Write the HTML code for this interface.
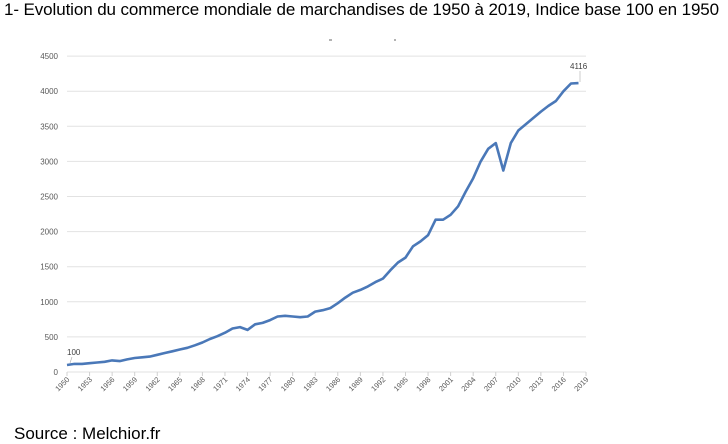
<!DOCTYPE html>
<html><head><meta charset="utf-8"><style>
body{margin:0;background:#fff;width:728px;height:438px;overflow:hidden;font-family:"Liberation Sans",sans-serif}
.t{position:absolute;left:4px;top:0px;font-size:17px;color:#000;white-space:nowrap;letter-spacing:-0.1px}
.s{position:absolute;left:14px;top:424px;font-size:17px;color:#000}
</style></head><body>
<div class="t">1- Evolution du commerce mondiale de marchandises de 1950 à 2019, Indice base 100 en 1950</div>
<svg id="c" width="728" height="438" style="position:absolute;left:0;top:0"></svg>
<div class="s">Source : Melchior.fr</div>
<script>
var d={1950:100,1951:115,1952:115,1953:125,1954:135,1955:145,1956:165,1957:155,1958:180,1959:200,1960:210,1961:220,1962:245,1963:270,1964:295,1965:320,1966:345,1967:380,1968:420,1969:470,1970:510,1971:560,1972:620,1973:640,1974:600,1975:680,1976:700,1977:740,1978:790,1979:800,1980:790,1981:780,1982:790,1983:860,1984:880,1985:910,1986:980,1987:1060,1988:1130,1989:1170,1990:1220,1991:1280,1992:1330,1993:1450,1994:1560,1995:1630,1996:1790,1997:1860,1998:1950,1999:2170,2000:2170,2001:2240,2002:2360,2003:2570,2004:2760,2005:3000,2006:3180,2007:3260,2008:2870,2009:3260,2010:3440,2011:3530,2012:3620,2013:3710,2014:3790,2015:3860,2016:4000,2017:4110,2018:4116};
var X=function(y){return 67+(y-1950)*7.522},Y=function(v){return 372-v*0.0702};
var s='';
for(var v=0;v<=4500;v+=500){var y=Y(v);s+='<line x1="67" x2="586" y1="'+y+'" y2="'+y+'" stroke="#e2e2e2" stroke-width="1"/>';s+='<text x="58" y="'+(y+3)+'" font-size="8" fill="#595959" text-anchor="end">'+v+'</text>';}
for(var yr=1950;yr<=2019;yr+=3){var x=X(yr);s+='<line x1="'+x+'" x2="'+x+'" y1="372" y2="376" stroke="#d0d0d0"/>';s+='<text transform="translate('+(x+3)+',380) rotate(-45)" font-size="7.5" fill="#595959" text-anchor="end">'+yr+'</text>';}
var p='';for(var k in d){p+=(p?'L':'M')+X(+k).toFixed(1)+','+Y(d[k]).toFixed(1);}
s+='<path d="'+p+'" fill="none" stroke="#4a78b8" stroke-width="2.6" stroke-linejoin="round"/>';
s+='<text x="67" y="355" font-size="8" fill="#404040">100</text><line x1="72" y1="357" x2="70" y2="363" stroke="#aaa" stroke-width="0.6"/>';
s+='<text x="570" y="69" font-size="8" fill="#404040">4116</text><line x1="580" y1="71" x2="580" y2="82" stroke="#aaa" stroke-width="0.6"/>';
s+='<line x1="329" x2="332" y1="40" y2="40" stroke="#666"/><line x1="394" x2="396" y1="40" y2="40" stroke="#666"/>';
document.getElementById('c').innerHTML=s;
</script>
</body></html>
